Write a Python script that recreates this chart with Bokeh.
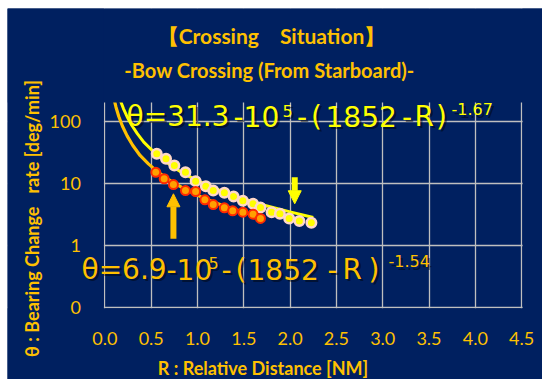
from bokeh.plotting import figure
from bokeh.models import Range1d, FixedTicker, Label, Arrow, NormalHead
from bokeh.embed import file_html
from bokeh.resources import INLINE
import math

# ---------------- data ----------------
x_ticks = [0.0, 0.5, 1.0, 1.5, 2.0, 2.5, 3.0, 3.5, 4.0, 4.5]
x_labels = ["0.0", "0.5", "1.0", "1.5", "2.0", "2.5", "3.0", "3.5", "4.0", "4.5"]
y_ticks = [0.1, 1, 10, 100]
y_labels = ["0", "1", "10", "100"]
x_limits = (0.0, 4.5)
y_limits = (0.1, 200)

# yellow series (upper): theta = 31.3*10^5*(1852*R)^-1.67
yellow_R = [0.56, 0.66, 0.75, 0.87, 0.98, 1.09, 1.17, 1.29, 1.39, 1.49, 1.60, 1.68, 1.80, 1.89, 1.99, 2.10, 2.23]
yellow_theta = [29.8, 24.8, 19.3, 15.0, 10.8, 8.9, 7.6, 7.0, 6.1, 5.2, 4.65, 4.06, 3.41, 3.21, 2.70, 2.46, 2.30]

# red/orange series (lower): theta = 6.9*10^5*(1852*R)^-1.54
red_R = [0.55, 0.64, 0.74, 0.87, 0.98, 1.08, 1.17, 1.29, 1.38, 1.49, 1.60, 1.68]
red_theta = [15.0, 11.8, 9.5, 7.6, 7.35, 5.4, 4.53, 4.01, 3.59, 3.41, 3.16, 2.70]

# fitted curves
yellow_curve_R = [0.17, 0.20, 0.24, 0.29, 0.35, 0.42, 0.50, 0.60, 0.72, 0.86, 1.00, 1.20, 1.40, 1.70, 2.00, 2.25]
yellow_curve_theta = [210, 160, 118, 86, 63, 46, 35, 26, 19, 14, 11, 8.1, 6.2, 4.5, 3.45, 2.8]
orange_curve_R = [0.10, 0.12, 0.15, 0.19, 0.24, 0.30, 0.38, 0.47, 0.58, 0.72, 0.88, 1.05, 1.25, 1.50, 1.72]
orange_curve_theta = [222, 168, 119, 83, 58, 41, 28, 20.5, 14.8, 10.6, 7.8, 5.9, 4.5, 3.4, 2.8]

# arrows (R, theta start -> theta end)
orange_arrow = (0.74, 1.27, 6.75)
yellow_arrow = (2.05, 12.5, 4.66)

title1 = "【Crossing\u3000Situation】"
title2 = "-Bow Crossing (From Starboard)-"
x_title = "R : Relative Distance [NM]"
y_title = "θ : Bearing Change\u00a0\u00a0\u00a0rate [deg/min]"

# ---------------- layout / styling ----------------
BG = "#002060"
GOLD = "#FFC000"
YEL = "#FFFF00"
GRID = "#BFBFBF"

W, H = 542, 379
ML, MT = 7, 8                      # white page strip above / left of the panel
X0_PX, PX_PER_R = 104.4, 92.6      # pixel of R=0 and pixels per NM (page coords)
Y100_PX, PX_PER_DEC = 120.7, 62.0  # pixel of theta=100 and pixels per decade
BASE_FIX = 8                       # renderer places alphabetic baselines ~8px low

def r_at(px):
    return (px - X0_PX) / PX_PER_R

def th_at(py):
    return 10 ** (2 - (py - Y100_PX) / PX_PER_DEC)

x_lo, x_hi = r_at(ML), r_at(W)
y_lo, y_hi = th_at(H), th_at(MT)

p = figure(width=W, height=H, output_backend="svg", toolbar_location=None,
           x_range=Range1d(x_lo, x_hi), y_range=Range1d(y_lo, y_hi), y_axis_type="log",
           min_border_left=ML, min_border_right=0, min_border_top=MT, min_border_bottom=0)
p.background_fill_color = BG
p.border_fill_color = "white"
p.outline_line_color = None

p.xaxis.fixed_location = y_limits[0]
p.yaxis.fixed_location = x_limits[0]
p.xaxis.ticker = FixedTicker(ticks=x_ticks)
p.xaxis.major_label_overrides = dict(zip(x_ticks, x_labels))
p.yaxis.ticker = FixedTicker(ticks=y_ticks)
p.yaxis.major_label_overrides = dict(zip(y_ticks, y_labels))
for ax in (p.xaxis, p.yaxis):
    ax.axis_line_color = None
    ax.major_tick_line_color = None
    ax.minor_tick_line_color = None
    ax.major_tick_out = 0
    ax.major_tick_in = 0
    ax.major_label_text_color = GOLD
    ax.major_label_text_font = "Lato"
    ax.major_label_text_font_size = "18px"
p.xaxis.major_label_standoff = 25
p.yaxis.major_label_standoff = 24

for g in (p.xgrid, p.ygrid):
    g.grid_line_color = GRID
    g.grid_line_width = 1.3
    g.minor_grid_line_color = None

# curves
p.line(yellow_curve_R, yellow_curve_theta, line_color=YEL, line_width=3)
p.line(orange_curve_R, orange_curve_theta, line_color=GOLD, line_width=3.2)

# mask everything outside the plot area (keeps grid/curves inside it)
ex = 1.0 / PX_PER_R
ey = 10 ** (-1.0 / PX_PER_DEC)
p.quad(left=[x_lo, x_lo, x_limits[1] + ex, x_lo],
       right=[x_hi, x_limits[0] - ex, x_hi, x_hi],
       bottom=[y_limits[1], y_lo, y_lo, y_lo],
       top=[y_hi, y_hi, y_hi, y_limits[0] * ey],
       fill_color=BG, line_color=None)

# points
p.scatter(yellow_R, yellow_theta, size=9.5, fill_color=YEL, line_color="#FFD8C8", line_width=2.5)
p.scatter(red_R, red_theta, size=9, fill_color="#FFA000", line_color="#FF2A00", line_width=2)

# arrows
for (ax_r, a0, a1), col in ((orange_arrow, GOLD), (yellow_arrow, YEL)):
    p.add_layout(Arrow(x_start=ax_r, y_start=a0, x_end=ax_r, y_end=a1,
                       line_color=col, line_width=6,
                       end=NormalHead(size=13, fill_color=col, line_color=col, line_width=1)))

# equation texts (pieces: text, page-x of origin, page-y of baseline, size)
eq1_pieces = [("θ=31.3", 126, 123.5, 28), ("-10", 233, 123.5, 28), ("5", 282, 118, 16),
              ("-", 296.5, 123.5, 28), ("(", 310.5, 123.5, 28), ("1852", 325, 123.5, 28),
              ("-", 401.5, 123.5, 28), ("R", 414, 123.5, 28), (")", 435.5, 123.5, 28),
              ("-1.67", 451, 116.7, 16)]
eq2_pieces = [("θ=6.9", 81, 276.5, 28), ("-10", 166, 276.5, 28), ("5", 208, 270, 16),
              ("-", 221, 276.5, 28), ("(", 235, 276.5, 28), ("1852", 247, 276.5, 28),
              ("-", 327, 276.5, 28), ("R", 342, 276.5, 28), (")", 368, 276.5, 28),
              ("-1.54", 388, 268.5, 16)]

def add_eq(pieces, color):
    for txt, px, py, s in pieces:
        p.add_layout(Label(x=r_at(px), y=th_at(py - BASE_FIX), text=txt, text_font="DejaVu Sans",
                           text_font_size=f"{s}px", text_color="#000000", text_alpha=0.45,
                           x_offset=2.5, y_offset=-2.5, text_baseline="alphabetic", text_align="left"))
    for txt, px, py, s in pieces:
        p.add_layout(Label(x=r_at(px), y=th_at(py - BASE_FIX), text=txt, text_font="DejaVu Sans",
                           text_font_size=f"{s}px", text_color=color,
                           text_baseline="alphabetic", text_align="left"))

add_eq(eq1_pieces, YEL)
add_eq(eq2_pieces, GOLD)

# titles and axis titles
p.add_layout(Label(x=r_at(271), y=th_at(43.3 - BASE_FIX), text=title1, text_font="Lato", text_font_style="bold",
                   text_font_size="21px", text_color=GOLD, text_align="center", text_baseline="alphabetic"))
p.add_layout(Label(x=r_at(269), y=th_at(77 - BASE_FIX), text=title2, text_font="Lato", text_font_style="bold",
                   text_font_size="20px", text_color=GOLD, text_align="center", text_baseline="alphabetic"))
p.add_layout(Label(x=r_at(262.5), y=th_at(375.5 - BASE_FIX), text=x_title, text_font="Lato", text_font_style="bold",
                   text_font_size="18px", text_color=GOLD, text_align="center", text_baseline="alphabetic"))
p.add_layout(Label(x=r_at(31), y=th_at(218), text=y_title, text_font="Lato", text_font_style="bold",
                   text_font_size="18px", text_color=GOLD, text_align="center", text_baseline="middle",
                   angle=math.pi / 2))

open("out.html", "w").write(file_html(p, INLINE))
